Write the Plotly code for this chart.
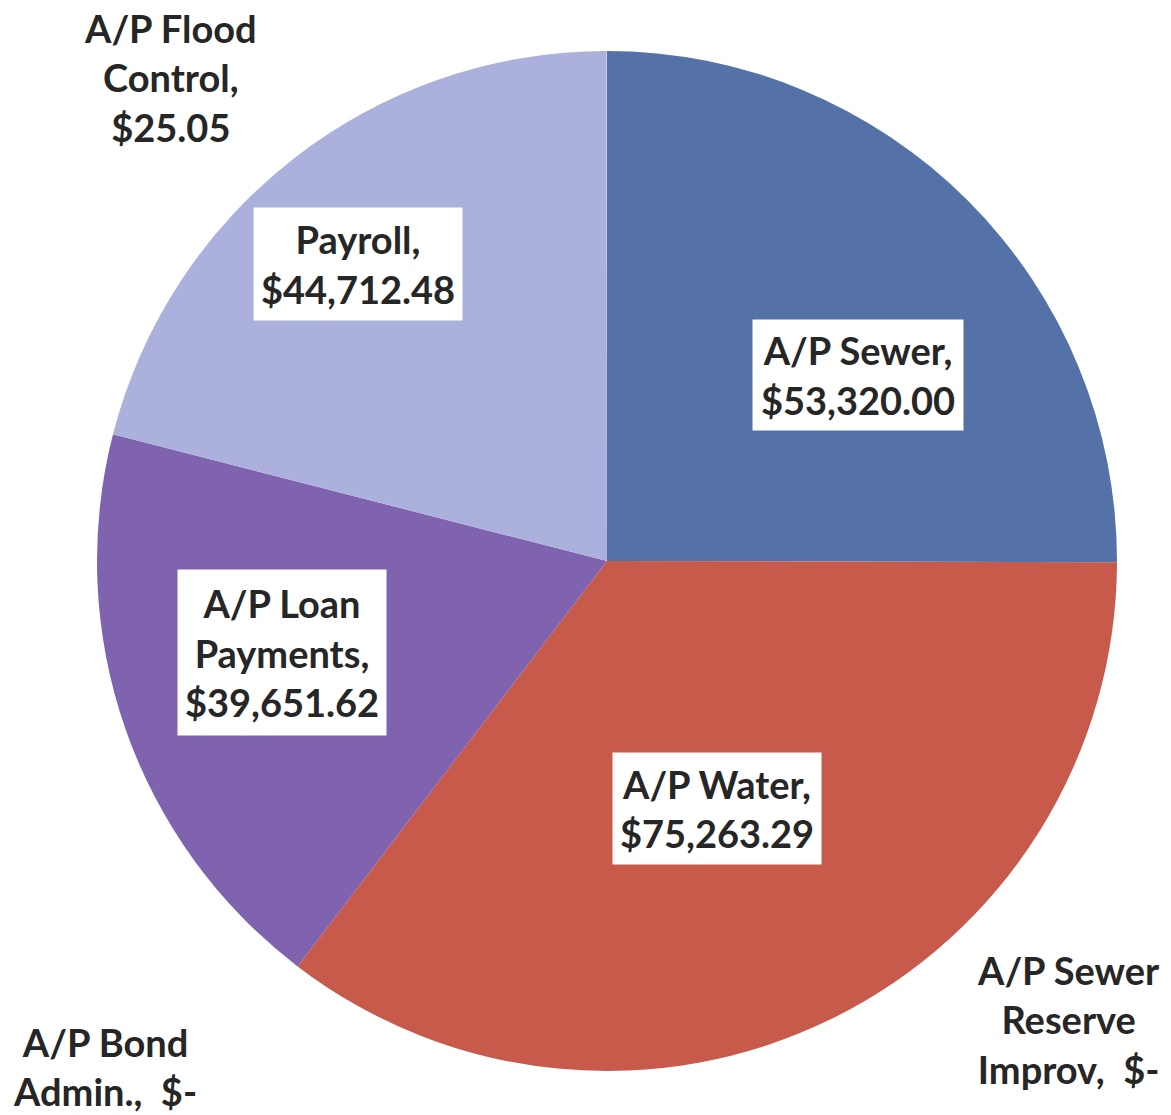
import plotly.graph_objects as go

# Accounts payable / payroll breakdown
categories = [
    "A/P Sewer",
    "A/P Water",
    "A/P Sewer Reserve Improv",
    "A/P Bond Admin.",
    "A/P Loan Payments",
    "Payroll",
    "A/P Flood Control",
]
amounts = [53320.00, 75263.29, 0.0, 0.0, 39651.62, 44712.48, 25.05]
colors = ["#5472A7", "#C85A4C", "#9BBB59", "#8064A2", "#8063AE", "#ACB0DC", "#D9DBF0"]

# Label text broken into lines as drawn on the chart
label_lines = {
    "A/P Sewer": ["A/P Sewer,"],
    "A/P Water": ["A/P Water,"],
    "A/P Sewer Reserve Improv": ["A/P Sewer", "Reserve", "Improv,"],
    "A/P Bond Admin.": ["A/P Bond", "Admin.,"],
    "A/P Loan Payments": ["A/P Loan", "Payments,"],
    "Payroll": ["Payroll,"],
    "A/P Flood Control": ["A/P Flood", "Control,"],
}

W, H = 1171, 1115


def money(v):
    return "$-" if v == 0 else f"${v:,.2f}"


def label_text(name, value):
    lines = list(label_lines[name])
    if value == 0:
        lines[-1] = lines[-1] + "  " + money(value)
    else:
        lines.append(money(value))
    return "<br>".join(lines)


# label placement (pixel centre, boxed or not, box size)
label_pos = {
    "A/P Sewer": (858, 375, True, 210, 110),
    "A/P Water": (717, 808, True, 208, 111),
    "A/P Sewer Reserve Improv": (1068, 1019, False, None, None),
    "A/P Bond Admin.": (105, 1066, False, None, None),
    "A/P Loan Payments": (282, 652, True, 208, 165),
    "Payroll": (358, 264, True, 208, 112),
    "A/P Flood Control": (170, 77, False, None, None),
}

cx, cy, r = 607, 561, 510

fig = go.Figure(
    go.Pie(
        labels=categories,
        values=amounts,
        sort=False,
        direction="clockwise",
        rotation=0,
        marker=dict(colors=colors, line=dict(width=0)),
        textinfo="none",
        hoverinfo="label+value",
        showlegend=False,
        domain=dict(x=[(cx - r) / W, (cx + r) / W], y=[1 - (cy + r) / H, 1 - (cy - r) / H]),
    )
)

font = dict(family="Lato, 'Open Sans', sans-serif", size=38, color="#262626")
for name, value in zip(categories, amounts):
    x, y, boxed, bw, bh = label_pos[name]
    ann = dict(
        x=x / W,
        y=1 - y / H,
        xref="paper",
        yref="paper",
        xanchor="center",
        yanchor="middle",
        text="<b>" + label_text(name, value) + "</b>",
        showarrow=False,
        align="center",
        font=font,
    )
    if boxed:
        ann.update(bgcolor="white", width=bw, height=bh, borderpad=0, valign="middle")
    fig.add_annotation(**ann)

fig.update_layout(
    width=W,
    height=H,
    margin=dict(l=0, r=0, t=0, b=0),
    paper_bgcolor="white",
    plot_bgcolor="white",
)

fig.write_html("out.html")
